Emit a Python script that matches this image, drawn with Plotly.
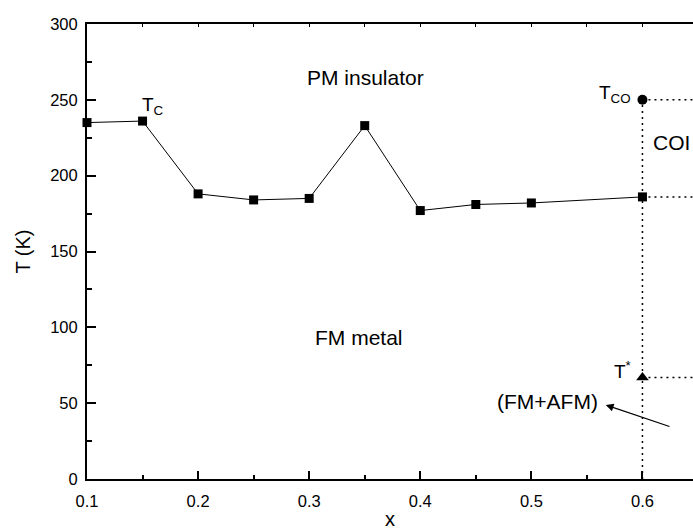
import plotly.graph_objects as go

# Curie temperature vs. doping
x_tc = [0.10, 0.15, 0.20, 0.25, 0.30, 0.35, 0.40, 0.45, 0.50, 0.60]
t_tc = [235, 236, 188, 184, 185, 233, 177, 181, 182, 186]

# Charge-ordering and T* points at x = 0.6
x_co = [0.6]
t_co = [250]
x_star = [0.6]
t_star = [67]

X_MIN, X_MAX = 0.1, 0.6455
FONT = "Arial, Liberation Sans, sans-serif"

fig = go.Figure()

# dotted guides at x = 0.6
guide = dict(color="black", width=1.5, dash="2px,4px")
fig.add_trace(go.Scatter(x=[x_co[0], x_co[0]], y=[0, t_co[0]], mode="lines",
                         line=guide, showlegend=False, hoverinfo="skip"))
for tv in (t_co[0], t_tc[-1], t_star[0]):
    fig.add_trace(go.Scatter(x=[x_co[0], X_MAX], y=[tv, tv], mode="lines",
                             line=guide, showlegend=False, hoverinfo="skip"))

fig.add_trace(go.Scatter(x=x_tc, y=t_tc, mode="lines+markers",
                         line=dict(color="black", width=1),
                         marker=dict(symbol="square", size=9, color="black"),
                         cliponaxis=False, showlegend=False))
fig.add_trace(go.Scatter(x=x_co, y=t_co, mode="markers",
                         marker=dict(symbol="circle", size=10, color="black"),
                         showlegend=False))
fig.add_trace(go.Scatter(x=x_star, y=t_star, mode="markers",
                         marker=dict(symbol="triangle-up", size=11, color="black"),
                         showlegend=False))

txt = dict(family=FONT, size=21, color="black")
anns = [
    dict(x=0.351, y=265, text="PM insulator", xanchor="center", yanchor="middle", font=txt),
    dict(x=0.345, y=93, text="FM metal", xanchor="center", yanchor="middle", font=txt),
    dict(x=0.6077, y=222, text="COI", xanchor="left", yanchor="middle", font=txt),
    dict(x=0.1477, y=246, text="T<sub>C</sub>", xanchor="left", yanchor="middle",
         font=dict(family=FONT, size=19, color="black")),
    dict(x=0.5915, y=254, text="T<sub>CO</sub>", xanchor="right", yanchor="middle",
         font=dict(family=FONT, size=19, color="black")),
    dict(x=0.5915, y=72, text="T<sup>*</sup>", xanchor="right", yanchor="middle",
         font=dict(family=FONT, size=19, color="black")),
    dict(x=0.5617, y=51, text="(FM+AFM)", xanchor="right", yanchor="middle", font=txt),
]
for a in anns:
    fig.add_annotation(xref="x", yref="y", showarrow=False, **a)

# arrow pointing at the (FM+AFM) label
fig.add_annotation(x=0.567, y=48.8, ax=0.6257, ay=34.3, xref="x", yref="y",
                   axref="x", ayref="y", text="", showarrow=True,
                   arrowhead=2, arrowsize=1.3, arrowwidth=1.2, arrowcolor="black")

tickfont = dict(family=FONT, size=16.5, color="black")
fig.update_layout(
    width=693, height=530,
    margin=dict(l=87, r=0, t=24, b=51),
    paper_bgcolor="white", plot_bgcolor="white",
    xaxis=dict(range=[X_MIN, X_MAX], tick0=0.1, dtick=0.1, tickformat=".1f",
               ticks="inside", ticklen=8, tickwidth=1.5, tickcolor="black",
               minor=dict(ticks="inside", ticklen=4, dtick=0.05, tick0=0.1,
                          tickcolor="black", tickwidth=1.5),
               showline=True, linewidth=2, linecolor="black", mirror=True,
               showgrid=False, zeroline=False, tickfont=tickfont,
               ticklabelstandoff=6,
               title=dict(text="x", font=dict(family=FONT, size=20, color="black"),
                          standoff=4)),
    xaxis2=dict(range=[X_MIN, X_MAX], overlaying="x", side="top", anchor="y",
                tick0=0.1, dtick=0.05, ticks="inside", ticklen=3, tickwidth=1,
                tickcolor="black", showticklabels=False, showline=False,
                showgrid=False, zeroline=False),
    yaxis=dict(range=[0, 300], dtick=50, ticks="inside", ticklen=9, tickwidth=1.5,
               tickcolor="black",
               minor=dict(ticks="inside", ticklen=4.5, dtick=25, tickcolor="black",
                          tickwidth=1.5),
               showline=True, linewidth=2, linecolor="black", mirror=False,
               showgrid=False, zeroline=False, tickfont=tickfont,
               ticklabelstandoff=4,
               title=dict(text="T (K)", font=dict(family=FONT, size=20, color="black"),
                          standoff=14)),
)
# invisible trace to activate the top axis
fig.add_trace(go.Scatter(x=[X_MIN], y=[0], xaxis="x2", mode="markers",
                         marker=dict(opacity=0), showlegend=False, hoverinfo="skip"))

fig.write_html("out.html")
